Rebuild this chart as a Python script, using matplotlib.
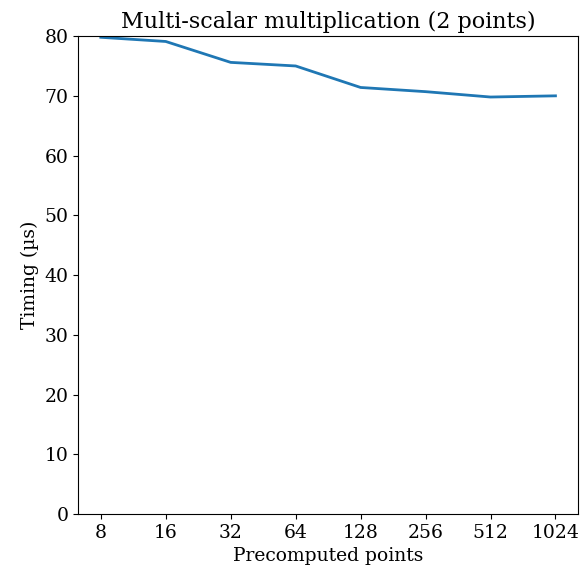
import matplotlib

matplotlib.use("Agg")

import matplotlib.pyplot as plt  # noqa: E402

# precomputed points vs timing (microseconds)
precomputed = ["8", "16", "32", "64", "128", "256", "512", "1024"]
timing_us = [79.8, 79.1, 75.6, 75.0, 71.4, 70.7, 69.8, 70.0]

plt.rcParams["font.family"] = "DejaVu Serif"
plt.rcParams["font.size"] = 13.5

fig = plt.figure(figsize=(5.87, 5.73), dpi=100)
ax = fig.add_axes([0.133, 0.103, 0.852, 0.834])
xs = list(range(len(precomputed)))
ax.plot(xs, timing_us, color="#1f77b4", linewidth=2)
ax.set_xticks(xs)
ax.set_xticklabels(precomputed)
ax.set_ylim(0, 80)
ax.set_xlabel("Precomputed points")
ax.set_ylabel("Timing (µs)")
ax.set_title("Multi-scalar multiplication (2 points)", fontsize=16)

fig.savefig("out.png", dpi=100)
